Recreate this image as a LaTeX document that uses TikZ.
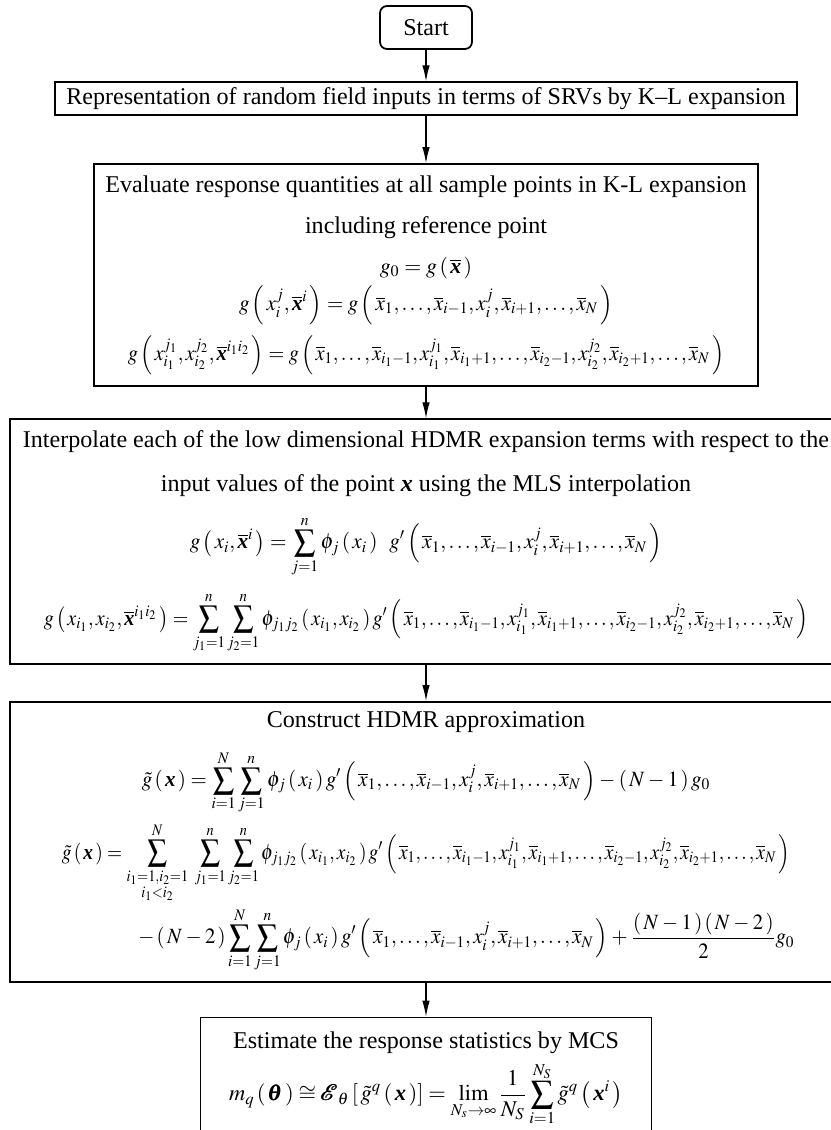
\documentclass[tikz,border=0pt]{standalone}
\usepackage{amsmath,amssymb}
\usepackage{graphicx}
\usepackage{mathptmx}
\usepackage[no-math]{fontspec}
\setmainfont{Liberation Serif}
\usetikzlibrary{arrows.meta, positioning}

\newcommand{\bx}{\text{\bfseries\itshape x}}
\newcommand{\xb}{\overline{x}}
\newcommand{\pr}[1]{\left(\mkern2mu#1\mkern2mu\right)}
\newcommand{\eqline}[2][1]{\scalebox{#1}[1]{\fontsize{12.4}{15}\selectfont$\displaystyle #2$}}
\thinmuskip=2mu
\medmuskip=3mu plus 1mu minus 2mu
\thickmuskip=4mu plus 2mu

\begin{document}
\begin{tikzpicture}[
            x=0.02cm, y=0.02cm,
            every node/.style={font=\fontsize{13.7}{16.5}\selectfont},
            startbox/.style={draw, rounded corners=4pt, line width=1pt, minimum width=1.84cm, minimum height=0.86cm, inner sep=0pt},
            stepbox/.style={draw, line width=1pt, inner sep=0pt, align=center},
            arrow/.style={line width=0.7pt, -{Latex[length=0.32cm, width=0.15cm]}}
          ]
  \useasboundingbox (0,0) rectangle (831,-1130);
  \clip (0,0) rectangle (831,-1130);

  % Nodes
  \node (start) [startbox] at (426,-27.5) {Start};
  \node (repr) [stepbox, below=0.63cm of start, minimum width=14.84cm, minimum height=0.66cm]
    {Representation of random field inputs in terms of SRVs by K--L expansion};
  \node (eval) [stepbox, below=0.94cm of repr, minimum width=13.28cm, minimum height=4.44cm]
    {Evaluate response quantities at all sample points in K-L expansion\\[7pt]
     including reference point\\[6pt]
     \eqline{g_0=g\pr{\overline{\bx}}}\\[3pt]
     \eqline[0.96]{g\pr{x_i^j,\overline{\bx}^i}=g\pr{\xb_1,\ldots,\xb_{i-1},x_i^j,\xb_{i+1},\ldots,\xb_N}}\\[5pt]
     \eqline[0.93]{g\pr{x_{i_1}^{j_1},x_{i_2}^{j_2},\overline{\bx}^{i_1i_2}}=g\pr{\xb_1,\ldots,\xb_{i_1-1},x_{i_1}^{j_1},\xb_{i_1+1},\ldots,\xb_{i_2-1},x_{i_2}^{j_2},\xb_{i_2+1},\ldots,\xb_N}}};
  \node (interp) [stepbox, below=0.63cm of eval, minimum width=16.64cm, minimum height=4.9cm]
    {Interpolate each of the low dimensional HDMR expansion terms with respect to the\\[9pt]
     input values of the point $\bx$ using the MLS interpolation\\[10pt]
     \eqline[0.97]{g\pr{x_i,\overline{\bx}^i}=\sum_{j=1}^{n}\phi_j\pr{x_i}\;\;g'\pr{\xb_1,\ldots,\xb_{i-1},x_i^j,\xb_{i+1},\ldots,\xb_N}}\\[8pt]
     \eqline[0.92]{g\pr{x_{i_1},x_{i_2},\overline{\bx}^{i_1i_2}}=\sum_{j_1=1}^{n}\sum_{j_2=1}^{n}\phi_{j_1j_2}\pr{x_{i_1},x_{i_2}}g'\pr{\xb_1,\ldots,\xb_{i_1-1},x_{i_1}^{j_1},\xb_{i_1+1},\ldots,\xb_{i_2-1},x_{i_2}^{j_2},\xb_{i_2+1},\ldots,\xb_N}}};
  \node (hdmr) [stepbox, below=0.72cm of interp, minimum width=16.64cm, minimum height=5.6cm]
    {Construct HDMR approximation\\[9pt]
     \eqline[0.96]{\tilde g\pr{\bx}=\sum_{i=1}^{N}\sum_{j=1}^{n}\phi_j\pr{x_i}g'\pr{\xb_1,\ldots,\xb_{i-1},x_i^j,\xb_{i+1},\ldots,\xb_N}-\pr{N-1}g_0}\\[4pt]
     \eqline[0.89]{\tilde g\pr{\bx}=\sum_{\substack{i_1=1,i_2=1\\ i_1<i_2}}^{N}\;\sum_{j_1=1}^{n}\sum_{j_2=1}^{n}\phi_{j_1j_2}\pr{x_{i_1},x_{i_2}}g'\pr{\xb_1,\ldots,\xb_{i_1-1},x_{i_1}^{j_1},\xb_{i_1+1},\ldots,\xb_{i_2-1},x_{i_2}^{j_2},\xb_{i_2+1},\ldots,\xb_N}}\\[2pt]
     \hspace*{46pt}\eqline[0.95]{-\pr{N-2}\sum_{i=1}^{N}\sum_{j=1}^{n}\phi_j\pr{x_i}g'\pr{\xb_1,\ldots,\xb_{i-1},x_i^j,\xb_{i+1},\ldots,\xb_N}+\frac{\pr{N-1}\pr{N-2}}{2}g_0}};
  \node (mcs) [stepbox, below=0.68cm of hdmr, minimum width=9.02cm, minimum height=2.45cm]
    {Estimate the response statistics by MCS\\[4pt]
     {\fontsize{12.8}{15}\selectfont$\displaystyle m_q\pr{\pmb{\theta}}\cong\pmb{\mathcal{E}}_\theta\left[\,\tilde g^q\pr{\bx}\right]=\lim_{N_s\to\infty}\frac{1}{N_S}\sum_{i=1}^{N_S}\tilde g^q\pr{\bx^i}$}};

  % Connectors
  \draw [arrow] (start) -- (repr);
  \draw [arrow] (repr) -- (eval);
  \draw [arrow] (eval) -- (interp);
  \draw [arrow] (interp) -- (hdmr);
  \draw [arrow] (hdmr) -- (mcs);

\end{tikzpicture}
\end{document}
